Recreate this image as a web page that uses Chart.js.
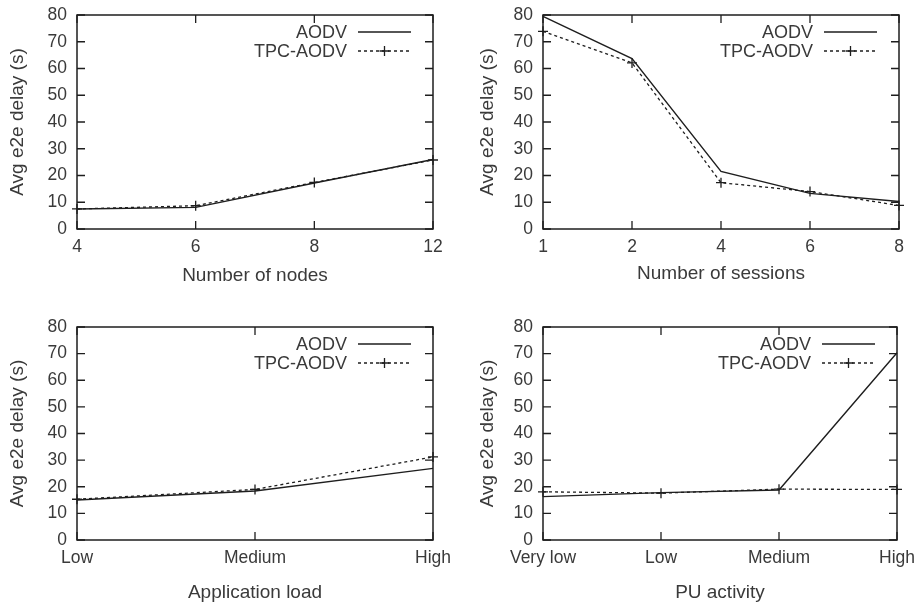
<!DOCTYPE html>
<html>
<head>
<meta charset="utf-8">
<script src="https://cdn.jsdelivr.net/npm/chart.js@4/dist/chart.umd.min.js"></script>
<style>
  html, body { margin: 0; padding: 0; background: #fff; }
  body { width: 923px; height: 604px; position: relative; overflow: hidden; }
  .box { position: absolute; }
</style>
</head>
<body>
<div class="box" style="left:0;top:0;width:460px;height:290px"><canvas id="c1" width="460" height="290"></canvas></div>
<div class="box" style="left:460px;top:0;width:463px;height:290px"><canvas id="c2" width="463" height="290"></canvas></div>
<div class="box" style="left:0;top:300px;width:460px;height:304px"><canvas id="c3" width="460" height="304"></canvas></div>
<div class="box" style="left:460px;top:300px;width:463px;height:304px"><canvas id="c4" width="463" height="304"></canvas></div>
<script>
// ---- data ----
const seriesNames = ['AODV', 'TPC-AODV'];
const yTitle = 'Avg e2e delay (s)';
const yTicks = [0, 10, 20, 30, 40, 50, 60, 70, 80];

const nodesLabels = ['4', '6', '8', '12'];
const nodesAODV = [7.5, 8.1, 17.2, 26.0];
const nodesTPC = [7.5, 8.7, 17.4, 25.8];

const sessionsLabels = ['1', '2', '4', '6', '8'];
const sessionsAODV = [79.5, 63.7, 21.5, 13.3, 10.3];
const sessionsTPC = [73.9, 62.1, 17.3, 14.0, 8.8];

const loadLabels = ['Low', 'Medium', 'High'];
const loadAODV = [15.0, 18.4, 26.9];
const loadTPC = [15.3, 19.0, 31.2];

const puLabels = ['Very low', 'Low', 'Medium', 'High'];
const puAODV = [16.3, 17.8, 18.8, 70.3];
const puTPC = [18.1, 17.6, 19.1, 19.0];

// ---- rendering ----
Chart.defaults.devicePixelRatio = 1;
const TEXT = '#3a3a3a';
const INK = '#1e1e1e';
const FONT = 'Liberation Sans';

const framePlugin = {
  id: 'frame',
  afterDraw(chart) {
    const { ctx, chartArea: a, scales } = chart;
    const x = scales.x, y = scales.y;
    ctx.save();
    ctx.strokeStyle = INK;
    ctx.lineWidth = 1.5;
    ctx.strokeRect(a.left, a.top, a.right - a.left, a.bottom - a.top);
    ctx.lineWidth = 1.3;
    ctx.beginPath();
    const tl = 8;
    y.ticks.forEach((t, i) => {
      const p = y.getPixelForTick(i);
      ctx.moveTo(a.left, p); ctx.lineTo(a.left + tl, p);
      ctx.moveTo(a.right, p); ctx.lineTo(a.right - tl, p);
    });
    x.ticks.forEach((t, i) => {
      const p = x.getPixelForTick(i);
      ctx.moveTo(p, a.bottom); ctx.lineTo(p, a.bottom - tl);
      ctx.moveTo(p, a.top); ctx.lineTo(p, a.top + tl);
    });
    ctx.stroke();

    // gnuplot-style key
    ctx.font = '18px "' + FONT + '"';
    ctx.fillStyle = TEXT;
    ctx.textAlign = 'right';
    ctx.textBaseline = 'middle';
    chart.data.datasets.forEach((ds, i) => {
      const ly = a.top + 17 + i * 19;
      ctx.fillText(ds.label, a.right - 86, ly + 1);
      ctx.beginPath();
      ctx.strokeStyle = ds.borderColor;
      ctx.lineWidth = ds.borderWidth;
      ctx.setLineDash(ds.borderDash || []);
      ctx.moveTo(a.right - 75, ly);
      ctx.lineTo(a.right - 22, ly);
      ctx.stroke();
      ctx.setLineDash([]);
      if (ds.pointRadius > 0) {
        const cx = a.right - 48.5, r = ds.pointRadius;
        ctx.beginPath();
        ctx.moveTo(cx - r, ly); ctx.lineTo(cx + r, ly);
        ctx.moveTo(cx, ly - r); ctx.lineTo(cx, ly + r);
        ctx.stroke();
      }
    });
    ctx.restore();
  }
};

function makeChart(id, labels, aodv, tpc, xTitle, L) {
  return new Chart(document.getElementById(id), {
    type: 'line',
    data: {
      labels: labels,
      datasets: [
        { label: seriesNames[0], data: aodv, borderColor: INK, borderWidth: 1.4,
          pointRadius: 0, pointHoverRadius: 0, fill: false, tension: 0, clip: 8 },
        { label: seriesNames[1], data: tpc, borderColor: INK, borderWidth: 1.3,
          borderDash: [3, 3], pointStyle: 'cross', pointRadius: 5, pointBorderWidth: 1.3,
          pointBorderColor: INK, pointHoverRadius: 5, fill: false, tension: 0, clip: 8 }
      ]
    },
    options: {
      responsive: false,
      animation: false,
      events: [],
      layout: { padding: { left: 0, right: L.right, top: L.top, bottom: 0 } },
      plugins: { legend: { display: false }, tooltip: { enabled: false } },
      scales: {
        x: {
          type: 'category',
          offset: false,
          grid: { display: false, drawTicks: false },
          border: { display: false },
          ticks: { color: TEXT, font: { family: FONT, size: 17.5 }, padding: 8, maxRotation: 0, autoSkip: false },
          title: { display: true, text: xTitle, color: TEXT, font: { family: FONT, size: 19 },
                   padding: { top: 0, bottom: L.xtb } },
          afterFit: s => { s.height = L.xh; }
        },
        y: {
          min: 0, max: 80,
          afterBuildTicks: s => { s.ticks = yTicks.map(v => ({ value: v })); },
          grid: { display: false, drawTicks: false },
          border: { display: false },
          ticks: { color: TEXT, font: { family: FONT, size: 17.5 }, padding: 10 },
          title: { display: true, text: yTitle, color: TEXT, font: { family: FONT, size: 19 },
                   padding: { top: L.ytp, bottom: 0 } },
          afterFit: s => { s.width = L.yw; s.paddingTop = 0; s.paddingBottom = 0; }
        }
      }
    },
    plugins: [framePlugin]
  });
}

makeChart('c1', nodesLabels, nodesAODV, nodesTPC, 'Number of nodes',
  { right: 27, top: 15, xh: 61, yw: 77, xtb: 3, ytp: 6 });
makeChart('c2', sessionsLabels, sessionsAODV, sessionsTPC, 'Number of sessions',
  { right: 24, top: 15, xh: 61, yw: 83, xtb: 5, ytp: 16 });
makeChart('c3', loadLabels, loadAODV, loadTPC, 'Application load',
  { right: 27, top: 27, xh: 64, yw: 77, xtb: 0, ytp: 6 });
makeChart('c4', puLabels, puAODV, puTPC, 'PU activity',
  { right: 24, top: 27, xh: 64, yw: 83, xtb: 0, ytp: 16 });
</script>
</body>
</html>
